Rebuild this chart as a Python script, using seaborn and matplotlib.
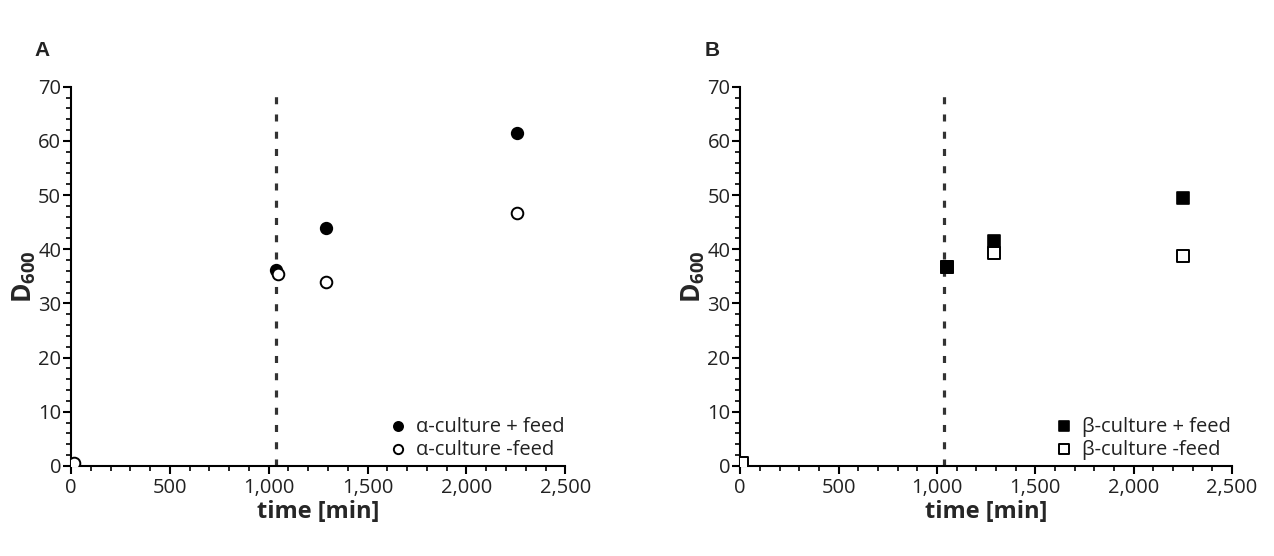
import numpy as np
import pandas as pd
import seaborn as sns
import matplotlib.pyplot as plt
from matplotlib.ticker import MultipleLocator, FuncFormatter

# Data
time_alpha_feed = [1035, 1290, 2255]
od_alpha_feed = [36.2, 44.0, 61.5]
time_alpha_nofeed = [15, 1045, 1290, 2255]
od_alpha_nofeed = [0.5, 35.4, 34.0, 46.7]

time_beta_feed = [1050, 1290, 2250]
od_beta_feed = [36.8, 41.5, 49.4]
time_beta_nofeed = [10, 1050, 1290, 2250]
od_beta_nofeed = [0.5, 36.8, 39.3, 38.7]

feed_start = 1035

sns.set_theme(style="ticks")
plt.rcParams['font.family'] = ['Open Sans', 'DejaVu Sans']
plt.rcParams['mathtext.fontset'] = 'custom'
plt.rcParams['mathtext.rm'] = 'Open Sans'
plt.rcParams['mathtext.bf'] = 'Open Sans:bold'

fig = plt.figure(figsize=(12.74, 5.56), dpi=100)
ax_a = fig.add_axes([0.0557, 0.162, 0.388, 0.682])
ax_b = fig.add_axes([0.581, 0.162, 0.386, 0.682])


def style_axis(ax):
    ax.set_xlim(0, 2500)
    ax.set_ylim(0, 70)
    ax.xaxis.set_major_locator(MultipleLocator(500))
    ax.xaxis.set_minor_locator(MultipleLocator(100))
    ax.yaxis.set_major_locator(MultipleLocator(10))
    ax.yaxis.set_minor_locator(MultipleLocator(2))
    ax.xaxis.set_major_formatter(FuncFormatter(lambda v, p: f"{int(v):,}"))
    for side in ['top', 'right']:
        ax.spines[side].set_visible(False)
    for side in ['left', 'bottom']:
        ax.spines[side].set_color('black')
        ax.spines[side].set_linewidth(1.5)
    ax.tick_params(which='major', length=6, width=1.5, color='black',
                   labelsize=14.5, labelcolor='#222222', pad=1)
    ax.tick_params(axis='x', which='major', pad=3)
    ax.tick_params(which='minor', length=3.5, width=1.2, color='black')
    ax.set_xlabel('time [min]', fontsize=17, fontweight='bold', labelpad=1)
    ax.set_ylabel(r'$\mathbf{D_{600}}$', fontsize=19, labelpad=0)
    ax.axvline(feed_start, color='#333333', lw=2.3, linestyle=(0, (2.2, 3.2)), zorder=1)


# Panel A
style_axis(ax_a)
sns.scatterplot(x=time_alpha_feed, y=od_alpha_feed, ax=ax_a, marker='o', s=70,
                color='black', edgecolor='black', linewidth=1.2,
                label=u'\u03b1-culture + feed', zorder=3)
sns.scatterplot(x=time_alpha_nofeed, y=od_alpha_nofeed, ax=ax_a, marker='o', s=70,
                color='white', edgecolor='black', linewidth=1.4,
                label=u'\u03b1-culture -feed', zorder=4)

# Panel B
style_axis(ax_b)
sns.scatterplot(x=time_beta_nofeed, y=od_beta_nofeed, ax=ax_b, marker='s', s=66,
                color='white', edgecolor='black', linewidth=1.4,
                label=u'\u03b2-culture -feed', zorder=3)
sns.scatterplot(x=time_beta_feed, y=od_beta_feed, ax=ax_b, marker='s', s=66,
                color='black', edgecolor='black', linewidth=1.2,
                label=u'\u03b2-culture + feed', zorder=4)

for ax, order in [(ax_a, [0, 1]), (ax_b, [1, 0])]:
    handles, labels = ax.get_legend_handles_labels()
    leg = ax.legend([handles[i] for i in order], [labels[i] for i in order],
                    loc='lower right', bbox_to_anchor=(1.015, -0.005), frameon=False,
                    fontsize=14.5, handletextpad=0.3, labelspacing=0.15,
                    markerscale=0.8, borderaxespad=0.0, handlelength=1.2)
    for t in leg.get_texts():
        t.set_color('#222222')

fig.text(0.027, 0.9, 'A', fontsize=15, fontweight='bold',
         family=['Liberation Sans', 'DejaVu Sans'], color='#222222')
fig.text(0.553, 0.9, 'B', fontsize=15, fontweight='bold',
         family=['Liberation Sans', 'DejaVu Sans'], color='#222222')

fig.savefig('out.png', dpi=100)
